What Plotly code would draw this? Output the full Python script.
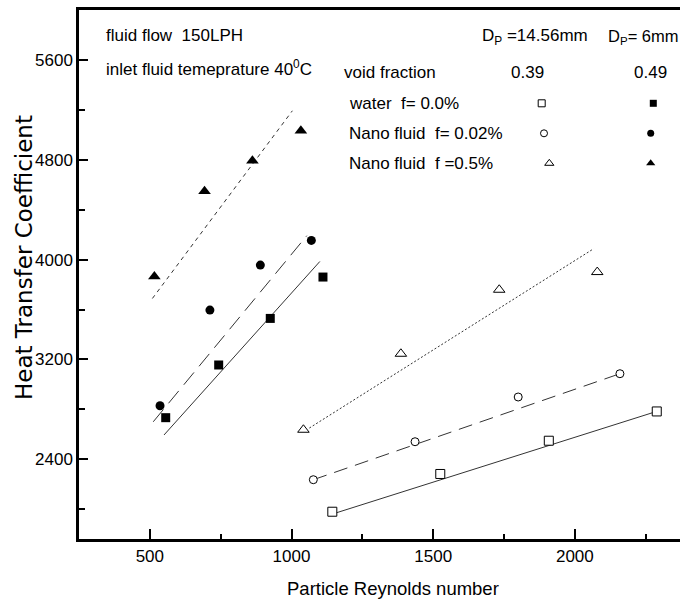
import plotly.graph_objects as go

# ---------------- data ----------------
# Dp = 6 mm (void fraction 0.49) -> filled markers
re_water_6 = [556, 743, 925, 1111]
h_water_6 = [2732, 3155, 3529, 3861]
re_nf002_6 = [536, 712, 890, 1070]
h_nf002_6 = [2828, 3596, 3957, 4155]
re_nf05_6 = [516, 693, 862, 1033]
h_nf05_6 = [3866, 4550, 4795, 5036]

# Dp = 14.56 mm (void fraction 0.39) -> open markers
re_water_14 = [1144, 1525, 1908, 2289]
h_water_14 = [1977, 2280, 2547, 2782]
re_nf002_14 = [1077, 1436, 1800, 2159]
h_nf002_14 = [2234, 2539, 2898, 3085]
re_nf05_14 = [1042, 1386, 1733, 2079]
h_nf05_14 = [2635, 3245, 3759, 3901]

# trend (fit) line end points
fit_water_6_x, fit_water_6_y = [550, 1100], [2593, 3986]
fit_nf002_6_x, fit_nf002_6_y = [512, 1054], [2699, 4193]
fit_nf05_6_x, fit_nf05_6_y = [509, 1003], [3689, 5196]
fit_water_14_x, fit_water_14_y = [1148, 2277], [1961, 2774]
fit_nf002_14_x, fit_nf002_14_y = [1077, 2159], [2234, 3085]
fit_nf05_14_x, fit_nf05_14_y = [1063, 2066], [2649, 4088]

x_ticks = [500, 1000, 1500, 2000]
x_minor = [750, 1250, 1750, 2250]
y_ticks = [2400, 3200, 4000, 4800, 5600]
y_minor = [2000, 2800, 3600, 4400, 5200]

# ---------------- figure ----------------
W, H = 680, 605
ML, MR, MT, MB = 79, 0, 10, 66
FONT = "Arial, Liberation Sans, sans-serif"
LINE_C = "#333333"

fig = go.Figure()

def fit(x, y, dash):
    fig.add_trace(go.Scatter(x=x, y=y, mode="lines",
                             line=dict(color=LINE_C, width=1, dash=dash),
                             showlegend=False, hoverinfo="skip"))

fit(fit_water_6_x, fit_water_6_y, "solid")
fit(fit_nf002_6_x, fit_nf002_6_y, "16px,8px")
fit(fit_nf05_6_x, fit_nf05_6_y, "4px,4px")
fit(fit_water_14_x, fit_water_14_y, "solid")
fit(fit_nf002_14_x, fit_nf002_14_y, "14px,8px")
fit(fit_nf05_14_x, fit_nf05_14_y, "2px,2px")

def pts(x, y, symbol, size, filled):
    if filled:
        m = dict(symbol=symbol, size=size, color="black", line=dict(width=0))
    else:
        m = dict(symbol=symbol, size=size, color="white",
                 line=dict(color="black", width=1))
    fig.add_trace(go.Scatter(x=x, y=y, mode="markers", marker=m,
                             showlegend=False, cliponaxis=False))

pts(re_water_6, h_water_6, "square", 9, True)
pts(re_nf002_6, h_nf002_6, "circle", 9, True)
pts(re_nf05_6, h_nf05_6, "triangle-up", 11, True)
pts(re_water_14, h_water_14, "square", 9, False)
pts(re_nf002_14, h_nf002_14, "circle", 8, False)
pts(re_nf05_14, h_nf05_14, "triangle-up", 10, False)

# ---------- overlay pixel-space axes for the legend block ----------
def legend_marker(px, py, symbol, size, filled):
    if filled:
        m = dict(symbol=symbol, size=size, color="black", line=dict(width=0))
    else:
        m = dict(symbol=symbol, size=size, color="white",
                 line=dict(color="black", width=1))
    fig.add_trace(go.Scatter(x=[px], y=[py], mode="markers", marker=m,
                             xaxis="x2", yaxis="y2", showlegend=False,
                             hoverinfo="skip", cliponaxis=False))

legend_marker(541.7, 103.3, "square", 7, False)
legend_marker(653.3, 103.3, "square", 7, True)
legend_marker(544.0, 133.3, "circle", 7, False)
legend_marker(650.7, 133.3, "circle", 7, True)
legend_marker(549.3, 163.3, "triangle-up", 8, False)
legend_marker(650.7, 163.3, "triangle-up", 8, True)

def txt(px, py, text, anchor="left", size=17, family=FONT, angle=0):
    fig.add_annotation(x=(px - ML) / (W - ML - MR), y=1 - (py - MT) / (H - MT - MB),
                       xref="paper", yref="paper", text=text, showarrow=False,
                       xanchor=anchor, yanchor="middle", textangle=angle,
                       font=dict(family=family, size=size, color="black"),
                       borderpad=0)

txt(105, 35, "fluid flow  150LPH")
txt(105, 68, "inlet fluid temeprature 40<sup>0</sup>C")
txt(481, 37, "D<sub>P</sub> =14.56mm")
txt(607, 37, "D<sub>P</sub>= 6mm", size=16.5)
txt(343, 72, "void fraction")
txt(527.5, 72, "0.39", anchor="center")
txt(650.8, 72, "0.49", anchor="center")
txt(348, 103.3, "water  f= 0.0%")
txt(348, 133.3, "Nano fluid  f= 0.02%")
txt(348, 163.3, "Nano fluid  f =0.5%")
# axis titles
txt(392.5, 588.3, "Particle Reynolds number", anchor="center", size=18.5)
txt(24, 258, "Heat Transfer Coefficient", anchor="center", size=23,
    family="DejaVu Sans, sans-serif", angle=-90)

fig.update_layout(
    width=W, height=H,
    margin=dict(l=ML, r=MR, t=MT, b=MB, pad=0),
    paper_bgcolor="white", plot_bgcolor="white",
    showlegend=False,
    font=dict(family=FONT, size=17, color="black"),
    xaxis=dict(range=[250, 2371], showline=True, linecolor="black", linewidth=2.5,
               mirror=True, ticks="inside", ticklen=10, tickwidth=2,
               tickcolor="black", tickvals=x_ticks,
               minor=dict(tickvals=x_minor, ticks="inside", ticklen=5,
                          tickwidth=1.5, tickcolor="black"),
               showgrid=False, zeroline=False,
               tickfont=dict(family=FONT, size=17, color="black")),
    yaxis=dict(range=[1758, 6005], showline=True, linecolor="black", linewidth=2.5,
               ticks="inside", ticklen=9, tickwidth=2, tickcolor="black",
               tickvals=y_ticks,
               minor=dict(tickvals=y_minor, ticks="inside", ticklen=6,
                          tickwidth=1.5, tickcolor="black"),
               showgrid=False, zeroline=False,
               tickfont=dict(family=FONT, size=17, color="black")),
    xaxis2=dict(range=[ML, W - MR], overlaying="x", anchor="y2", visible=False,
                fixedrange=True),
    yaxis2=dict(range=[H - MB, MT], overlaying="y", anchor="x2", visible=False,
                fixedrange=True),
)

fig.write_html("out.html")
